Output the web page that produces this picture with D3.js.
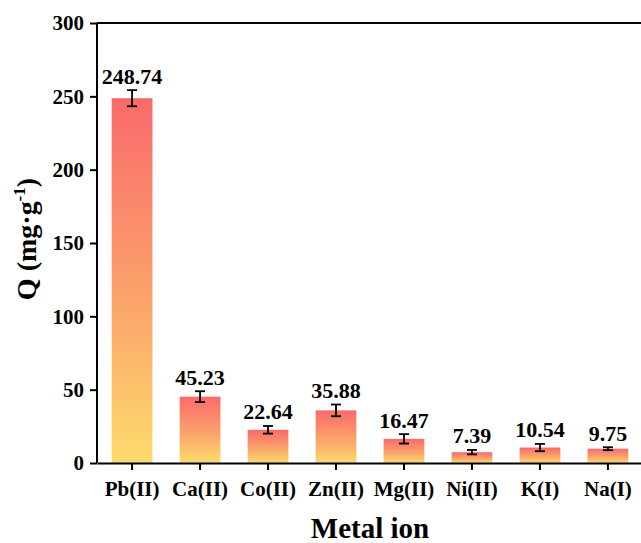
<!DOCTYPE html>
<html><head><meta charset="utf-8">
<script src="https://cdn.jsdelivr.net/npm/d3@7"></script>
<style>body{margin:0;background:#fff}svg{display:block}</style>
</head><body>
<svg id="c" width="641" height="543"></svg>
<script>
const categories = ["Pb(II)","Ca(II)","Co(II)","Zn(II)","Mg(II)","Ni(II)","K(I)","Na(I)"];
const values = [248.74,45.23,22.64,35.88,16.47,7.39,10.54,9.75];
const errors = [5.5,3.7,2.6,4.0,3.2,1.5,2.5,1.0];
const yTicks = [0,50,100,150,200,250,300];

const FONT = "'Liberation Serif', 'Times New Roman', serif";
const svg = d3.select("#c");
const L=97, R=643, T=23, B=463;
const x = d3.scaleBand().domain(categories).range([L,R]).paddingInner(0.4).paddingOuter(0.216);
const y = d3.scaleLinear().domain([0,300]).range([B,T]);

const defs = svg.append("defs");
const g = defs.append("linearGradient").attr("id","grad").attr("x1",0).attr("y1",0).attr("x2",0).attr("y2",1);
g.append("stop").attr("offset","0%").attr("stop-color","#F96A6B");
g.append("stop").attr("offset","55%").attr("stop-color","#FBA36B");
g.append("stop").attr("offset","100%").attr("stop-color","#FDDB6C");

const data = categories.map((c,i)=>({c,v:values[i],e:errors[i]}));

svg.selectAll("rect.bar").data(data).join("rect").attr("class","bar")
  .attr("x",d=>x(d.c)).attr("width",x.bandwidth())
  .attr("y",d=>y(d.v)).attr("height",d=>y(0)-y(d.v)).attr("fill","url(#grad)");

const eg = svg.append("g").attr("stroke","#000").attr("stroke-width",1.8);
data.forEach(d=>{
  const cx = x(d.c)+x.bandwidth()/2;
  eg.append("line").attr("x1",cx).attr("x2",cx).attr("y1",y(d.v+d.e)).attr("y2",y(d.v-d.e));
  eg.append("line").attr("x1",cx-5).attr("x2",cx+5).attr("y1",y(d.v+d.e)).attr("y2",y(d.v+d.e));
  eg.append("line").attr("x1",cx-5).attr("x2",cx+5).attr("y1",y(d.v-d.e)).attr("y2",y(d.v-d.e));
});

svg.selectAll("text.val").data(data).join("text").attr("class","val")
  .attr("x",d=>x(d.c)+x.bandwidth()/2).attr("y",d=>y(d.v+d.e)-6.5)
  .attr("text-anchor","middle")
  .attr("style",`font-family:${FONT};font-weight:bold;font-size:22px`)
  .text(d=>d.v.toFixed(2));

const yAxis = svg.append("g").attr("transform",`translate(${L},0)`)
  .call(d3.axisLeft(y).tickValues(yTicks).tickSize(7).tickPadding(6).tickFormat(d3.format("d")));
const xAxis = svg.append("g").attr("transform",`translate(0,${B})`)
  .call(d3.axisBottom(x).tickSize(7).tickPadding(11).tickSizeOuter(0));
[yAxis,xAxis].forEach(a=>{
  a.attr("font-family",null).attr("font-size",null);
  a.select(".domain").attr("stroke","#000").attr("stroke-width",2);
  a.selectAll(".tick line").attr("stroke","#000").attr("stroke-width",2);
  a.selectAll(".tick text").attr("fill","#000")
    .attr("style",`font-family:${FONT};font-weight:bold;font-size:21px`);
});
yAxis.select(".domain").attr("d",`M-0,${B}V${T}`);
svg.append("line").attr("x1",L).attr("x2",R).attr("y1",T).attr("y2",T).attr("stroke","#000").attr("stroke-width",2);

svg.append("text").attr("x",(L+R)/2).attr("y",538).attr("text-anchor","middle")
  .attr("style",`font-family:${FONT};font-weight:bold;font-size:29px`).text("Metal ion");
const yt = svg.append("text").attr("transform",`translate(36,${(T+B)/2-4}) rotate(-90)`).attr("text-anchor","middle")
  .attr("style",`font-family:${FONT};font-weight:bold;font-size:28px`);
yt.append("tspan").text("Q (mg·g");
yt.append("tspan").attr("dy",-11).style("font-size","17px").text("-1");
yt.append("tspan").attr("dy",11).text(")");
</script>
</body></html>
